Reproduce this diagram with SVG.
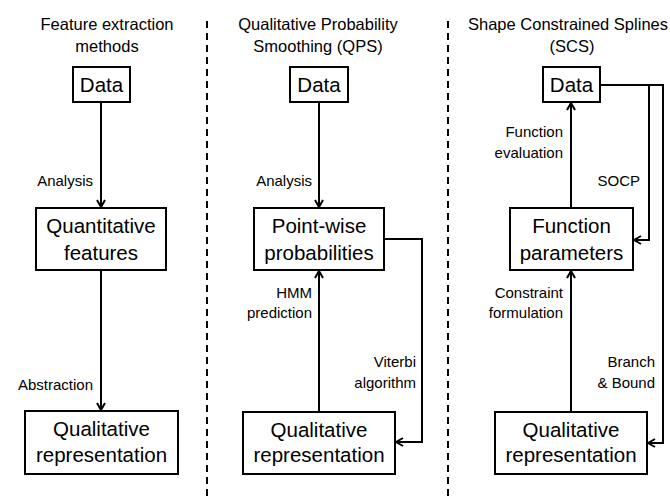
<svg xmlns="http://www.w3.org/2000/svg" width="670" height="499" viewBox="0 0 670 499">
<style>
text{font-family:"Liberation Sans",Arial,sans-serif;fill:#000}
.t{font-size:16.5px;text-anchor:middle}
.b{font-size:20.5px;text-anchor:middle}
.l{font-size:15px;text-anchor:end}
rect{fill:#fff;stroke:#000;stroke-width:2}
.c{fill:none;stroke:#000;stroke-width:2}
.d{fill:none;stroke:#000;stroke-width:2;stroke-dasharray:7 5}
</style>
<defs>
<marker id="a" viewBox="0 0 10 10" refX="9" refY="5" markerWidth="10" markerHeight="10" markerUnits="userSpaceOnUse" orient="auto">
<path d="M2,1 L9,5 L2,9" fill="none" stroke="#000" stroke-width="2"/>
</marker>
</defs>
<rect x="0" y="0" width="670" height="499" style="stroke:none"/>
<g id="titles">
<text class="t" x="107" y="30">Feature extraction</text>
<text class="t" x="107" y="52">methods</text>
<text class="t" x="318" y="30">Qualitative Probability</text>
<text class="t" x="318" y="52">Smoothing (QPS)</text>
<text class="t" x="568" y="30">Shape Constrained Splines</text>
<text class="t" x="572" y="52">(SCS)</text>
</g>
<g id="dividers">
<line class="d" x1="207" y1="21" x2="207" y2="499"/>
<line class="d" x1="448" y1="21" x2="448" y2="499"/>
</g>
<g id="connectors">
<line class="c" x1="101" y1="102" x2="101" y2="207" marker-end="url(#a)"/>
<line class="c" x1="101" y1="270" x2="101" y2="410" marker-end="url(#a)"/>
<line class="c" x1="319" y1="102" x2="319" y2="207" marker-end="url(#a)"/>
<line class="c" x1="319" y1="412" x2="319" y2="271" marker-end="url(#a)"/>
<polyline class="c" points="384,239 422,239 422,442 396,442" marker-end="url(#a)"/>
<line class="c" x1="571" y1="208" x2="571" y2="103" marker-end="url(#a)"/>
<line class="c" x1="571" y1="412" x2="571" y2="271" marker-end="url(#a)"/>
<polyline class="c" points="600,85 663,85 663,443 648,443" marker-end="url(#a)"/>
<polyline class="c" points="649,85 649,240 634,240" marker-end="url(#a)"/>
</g>
<g id="labels">
<text class="l" x="93" y="186">Analysis</text>
<text class="l" x="93" y="390">Abstraction</text>
<text class="l" x="312" y="186">Analysis</text>
<text class="l" x="312" y="298">HMM</text>
<text class="l" x="312" y="318">prediction</text>
<text class="l" x="416" y="367">Viterbi</text>
<text class="l" x="416" y="388">algorithm</text>
<text class="l" x="563" y="137">Function</text>
<text class="l" x="563" y="158">evaluation</text>
<text class="l" x="640" y="186">SOCP</text>
<text class="l" x="563" y="298">Constraint</text>
<text class="l" x="563" y="318">formulation</text>
<text class="l" x="655" y="367">Branch</text>
<text class="l" x="655" y="388">&amp; Bound</text>
</g>
<g id="fe-data"><rect x="73" y="67" width="57" height="35"/><text class="b" x="101.5" y="92">Data</text></g>
<g id="fe-quant"><rect x="36" y="208" width="130" height="62"/><text class="b" x="101" y="233">Quantitative</text><text class="b" x="101" y="260">features</text></g>
<g id="fe-qual"><rect x="25" y="411" width="153" height="63"/><text class="b" x="101.5" y="436">Qualitative</text><text class="b" x="101.5" y="462">representation</text></g>
<g id="qps-data"><rect x="290" y="67" width="58" height="35"/><text class="b" x="319" y="92">Data</text></g>
<g id="qps-point"><rect x="254" y="208" width="130" height="62"/><text class="b" x="319" y="233">Point-wise</text><text class="b" x="319" y="260">probabilities</text></g>
<g id="qps-qual"><rect x="243" y="412" width="152" height="62"/><text class="b" x="319" y="437">Qualitative</text><text class="b" x="319" y="462">representation</text></g>
<g id="scs-data"><rect x="543" y="67" width="57" height="35"/><text class="b" x="571.5" y="92">Data</text></g>
<g id="scs-func"><rect x="510" y="208" width="123" height="62"/><text class="b" x="571.5" y="233">Function</text><text class="b" x="571.5" y="260">parameters</text></g>
<g id="scs-qual"><rect x="495" y="412" width="152" height="62"/><text class="b" x="571" y="437">Qualitative</text><text class="b" x="571" y="462">representation</text></g>
</svg>
